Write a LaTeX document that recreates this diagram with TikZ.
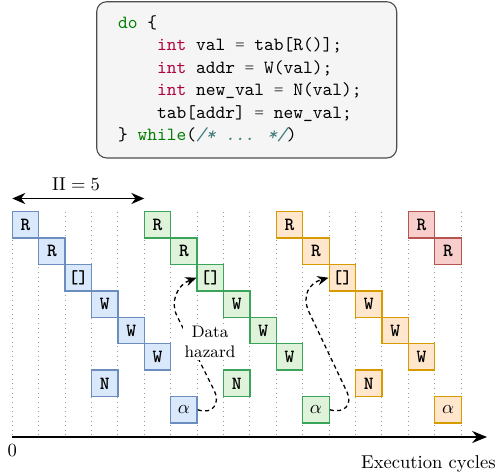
\documentclass[tikz,border=0pt]{standalone}
\usetikzlibrary{arrows.meta}
\definecolor{bfill}{HTML}{DAE8FC}
\definecolor{bdraw}{HTML}{6C8EBF}
\definecolor{gfill}{HTML}{DFF3DA}
\definecolor{gdraw}{HTML}{3AA55A}
\definecolor{ofill}{HTML}{FFE6CC}
\definecolor{odraw}{HTML}{D79B00}
\definecolor{rfill}{HTML}{F8CECC}
\definecolor{rdraw}{HTML}{B85450}
\definecolor{codebg}{HTML}{F5F5F5}
\definecolor{codeframe}{HTML}{4D4D4D}
\definecolor{kwgreen}{HTML}{008000}
\definecolor{kwtype}{HTML}{B00040}
\definecolor{cmt}{HTML}{3D7B7B}
\definecolor{opgray}{HTML}{666666}
\newcommand\kw[1]{\textcolor{kwgreen}{#1}}
\newcommand\ty[1]{\textcolor{kwtype}{#1}}
\newcommand\eqop{\textcolor{opgray}{=}}
\tikzset{
  cellbox/.style={minimum size=0.5cm, inner sep=0pt, line width=0.7pt, font=\ttfamily\bfseries},
  bluebox/.style={cellbox, fill=bfill, draw=bdraw},
  greenbox/.style={cellbox, fill=gfill, draw=gdraw},
  orangebox/.style={cellbox, fill=ofill, draw=odraw},
  redbox/.style={cellbox, fill=rfill, draw=rdraw},
  gridline/.style={gray!80, dotted, line width=0.5pt},
  codeline/.style={anchor=base west, inner sep=0pt, font=\ttfamily},
  hazard/.style={-{Stealth[length=6pt,width=5pt]}, line width=0.7pt, dash pattern=on 2.2pt off 1.8pt},
  plain/.style={inner sep=0pt},
}
\begin{document}
\begin{tikzpicture}[x=0.018939cm, y=-0.018939cm]
\useasboundingbox (0,0) rectangle (498,473);
% code box
\draw[codeframe, fill=codebg, line width=0.6pt, rounded corners=5.4pt] (96.7,1.7) rectangle (396.7,158);
\node[codeline] (c1) at (117.7,28.3) {\kw{do} \{};
\node[codeline] (c2) at (117.7,50.8) {\ \ \ \ \ty{int} val \eqop{} tab[R()];};
\node[codeline] (c3) at (117.7,73.3) {\ \ \ \ \ty{int} addr \eqop{} W(val);};
\node[codeline] (c4) at (117.7,95.8) {\ \ \ \ \ty{int} new\_val \eqop{} N(val);};
\node[codeline] (c5) at (117.7,118.3) {\ \ \ \ tab[addr] \eqop{} new\_val;};
\node[codeline] (c6) at (117.7,140.8) {\} \kw{while}(\textcolor{cmt}{\itshape /* ... */})};
% II arrow
\coordinate (ii0) at (12.3,198.5);
\coordinate (ii1) at (144.3,198.5);
\draw[{Stealth[length=7pt,width=6pt]}-{Stealth[length=7pt,width=6pt]}, line width=0.8pt] (ii0) -- (ii1);
\node[plain, anchor=base] (iilab) at (76,190) {$\mathrm{II}=5$};
% grid
\foreach \i in {0,...,17} {
  \draw[gridline] ({12.3+26.4*\i},211.7) -- ({12.3+26.4*\i},437);
}
% axis
\coordinate (ax0) at (12.3,437);
\coordinate (ax1) at (487,437);
\draw[-{Stealth[length=8pt,width=6.5pt]}, line width=0.8pt] (ax0) -- (ax1);
\node[plain, anchor=base] (zero) at (12.3,456) {0};
\node[plain, anchor=base east] (xlab) at (496,468) {Execution cycles};
% boxes
\begin{scope}[shift={(12.3,211.7)}, x=0.5cm, y=-0.5cm]
  \node[bluebox] (b-R1) at (0.5,0.5) {R};
  \node[bluebox] (b-R2) at (1.5,1.5) {R};
  \node[bluebox] (b-idx) at (2.5,2.5) {[]};
  \node[bluebox] (b-W1) at (3.5,3.5) {W};
  \node[bluebox] (b-W2) at (4.5,4.5) {W};
  \node[bluebox] (b-W3) at (5.5,5.5) {W};
  \node[bluebox] (b-N) at (3.5,6.5) {N};
  \node[bluebox] (b-alpha) at (6.5,7.5) {$\alpha$};
  \node[greenbox] (g-R1) at (5.5,0.5) {R};
  \node[greenbox] (g-R2) at (6.5,1.5) {R};
  \node[greenbox] (g-idx) at (7.5,2.5) {[]};
  \node[greenbox] (g-W1) at (8.5,3.5) {W};
  \node[greenbox] (g-W2) at (9.5,4.5) {W};
  \node[greenbox] (g-W3) at (10.5,5.5) {W};
  \node[greenbox] (g-N) at (8.5,6.5) {N};
  \node[greenbox] (g-alpha) at (11.5,7.5) {$\alpha$};
  \node[orangebox] (o-R1) at (10.5,0.5) {R};
  \node[orangebox] (o-R2) at (11.5,1.5) {R};
  \node[orangebox] (o-idx) at (12.5,2.5) {[]};
  \node[orangebox] (o-W1) at (13.5,3.5) {W};
  \node[orangebox] (o-W2) at (14.5,4.5) {W};
  \node[orangebox] (o-W3) at (15.5,5.5) {W};
  \node[orangebox] (o-N) at (13.5,6.5) {N};
  \node[orangebox] (o-alpha) at (16.5,7.5) {$\alpha$};
  \node[redbox] (r-R1) at (15.5,0.5) {R};
  \node[redbox] (r-R2) at (16.5,1.5) {R};
\end{scope}
% hazards
\draw[hazard] (b-alpha.east) .. controls (213,415) and (220.7,403) .. (214,390) -- (177,316) .. controls (170,302) and (177,285) .. (g-idx.west);
\draw[hazard] (g-alpha.east) .. controls (345,414) and (352.7,404) .. (347,392) -- (309,312) .. controls (301.4,296) and (309,283) .. (o-idx.west);
\node[fill=white, inner sep=1pt, align=center, font=\small] (hz) at (210,342) {Data\\hazard};
\end{tikzpicture}
\end{document}
